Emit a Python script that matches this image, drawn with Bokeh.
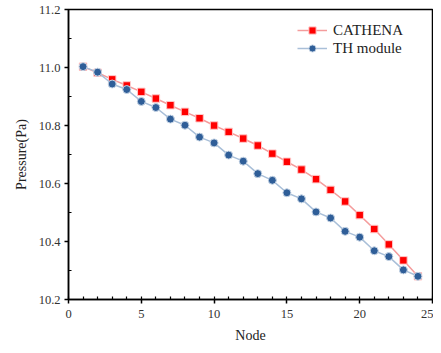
from bokeh.plotting import figure
from bokeh.models import Range1d, FixedTicker, Legend, LegendItem, PrintfTickFormatter
from bokeh.embed import file_html
from bokeh.resources import INLINE

nodes = list(range(1, 25))
cathena = [11.003, 10.982, 10.959, 10.938, 10.916, 10.893, 10.870, 10.847, 10.825, 10.800,
           10.778, 10.755, 10.731, 10.703, 10.675, 10.648, 10.615, 10.578, 10.538, 10.491,
           10.443, 10.390, 10.335, 10.280]
th_module = [11.003, 10.984, 10.943, 10.924, 10.883, 10.862, 10.822, 10.801, 10.760, 10.740,
             10.698, 10.677, 10.634, 10.611, 10.568, 10.547, 10.502, 10.481, 10.435, 10.415,
             10.368, 10.348, 10.302, 10.280]
series_names = ["CATHENA", "TH module"]
x_major = [0, 5, 10, 15, 20, 25]
x_minor = list(range(0, 26))
y_major = [10.2, 10.4, 10.6, 10.8, 11.0, 11.2]
y_minor = [10.3, 10.5, 10.7, 10.9, 11.1]

FONT = "Liberation Serif"

p = figure(width=433, height=345, output_backend="svg", toolbar_location=None,
           x_range=Range1d(0, 25), y_range=Range1d(10.2, 11.2),
           min_border_left=68, min_border_right=1, min_border_top=9, min_border_bottom=40)
p.grid.visible = False
p.outline_line_color = "black"
p.outline_line_width = 1.5
p.background_fill_color = "white"

p.xaxis.ticker = FixedTicker(ticks=x_major, minor_ticks=x_minor)
p.yaxis.ticker = FixedTicker(ticks=y_major, minor_ticks=y_minor)
p.yaxis.formatter = PrintfTickFormatter(format="%.1f")

for ax in (p.xaxis, p.yaxis):
    ax.axis_line_width = 1.5
    ax.axis_line_color = "black"
    ax.major_tick_line_color = "black"
    ax.minor_tick_line_color = "black"
    ax.major_tick_line_width = 1.5
    ax.minor_tick_line_width = 1.2
    ax.major_tick_out = 4
    ax.major_tick_in = 0
    ax.minor_tick_in = 3
    ax.minor_tick_out = 0
    ax.major_label_text_font = FONT
    ax.major_label_text_font_size = "12.5px"
    ax.major_label_text_color = "#333333"
    ax.axis_label_text_font = FONT
    ax.axis_label_text_font_size = "14px"
    ax.axis_label_text_font_style = "normal"
    ax.axis_label_text_color = "#222222"

p.xaxis.axis_label = "Node"
p.yaxis.axis_label = "Pressure(Pa)"
p.xaxis.major_label_standoff = 6
p.xaxis.axis_label_standoff = 7
p.yaxis.major_label_standoff = 4
p.yaxis.axis_label_standoff = 7

r1l = p.line(nodes, cathena, line_color="#F49C9C", line_width=1.5)
r1m = p.scatter(nodes, cathena, marker="square", size=7.5, fill_color="#FF0000",
                line_color="#FFC8C8", line_width=1)
r2l = p.line(nodes, th_module, line_color="#A9BFD8", line_width=1.5)
r2m = p.scatter(nodes, th_module, marker="circle", size=8, fill_color="#2F5E98",
                line_color="#C8D6E6", line_width=1)

legend = Legend(items=[LegendItem(label=series_names[0], renderers=[r1l, r1m]),
                       LegendItem(label=series_names[1], renderers=[r2l, r2m])],
                location=(229, 242), padding=0, margin=0, spacing=0,
                glyph_width=30, glyph_height=18, label_height=18, label_standoff=6,
                border_line_color=None, background_fill_alpha=0,
                label_text_font=FONT, label_text_font_size="15px", label_text_color="#222222")
p.add_layout(legend, "center")

open("out.html", "w").write(file_html(p, INLINE))
